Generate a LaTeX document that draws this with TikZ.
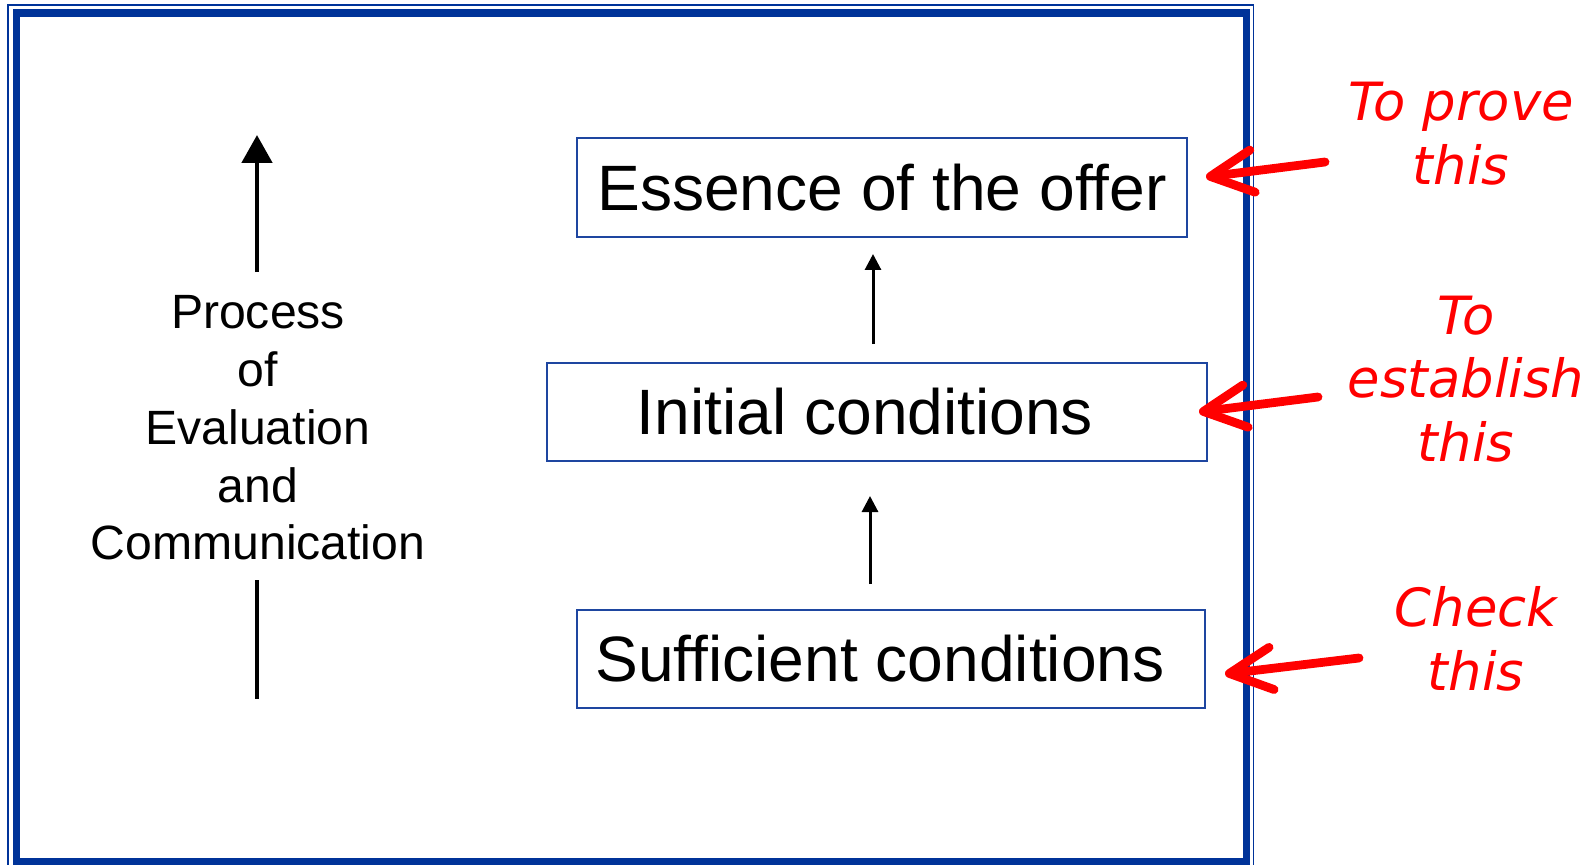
\documentclass[tikz,border=0pt]{standalone}
\usepackage{fontspec}
\setmainfont{Liberation Sans}
\newfontfamily\notefont{DejaVu Sans}
\usetikzlibrary{arrows.meta}

\definecolor{frameblue}{RGB}{0,51,153}
\definecolor{boxblue}{RGB}{30,70,160}

\tikzstyle{stage}=[draw=boxblue, line width=1.1pt, inner sep=0pt, minimum height=1.97cm, font=\fontsize{36.5}{44}\selectfont]
\tikzstyle{note}=[red, align=center, inner sep=0pt, font=\notefont\itshape\fontsize{30}{36.3}\selectfont]
\tikzstyle{pointer}=[red, line width=5pt, line cap=round, line join=round, -{Straight Barb[length=0.85cm, width=0.85cm, round]}]
\tikzstyle{step up}=[line width=1.7pt, -{Triangle[width=0.32cm, length=0.32cm]}]
\tikzstyle{main up}=[line width=2.8pt]

\begin{document}
\begin{tikzpicture}[x=0.02cm, y=-0.02cm]
				\useasboundingbox (0,0) rectangle (1595,865);
				\clip (0,0) rectangle (1595,865);

				% frame
				\draw[frameblue, line width=1.1pt] (8,5) rectangle (1253.5,880);
				\draw[frameblue, line width=4pt] (16.5,13) rectangle (1246.5,862);

				% boxes
				\node[stage, minimum width=12.2cm] (essence) at (882,187.5) {Essence of the offer};
				\node[stage, minimum width=13.2cm] (initial) at (877,412) {Initial conditions\hspace*{0.48cm}};
				\node[stage, minimum width=12.56cm] (sufficient) at (891,659) {Sufficient conditions\hspace*{0.44cm}};

				\coordinate (lowtail) at (870,584);
				\coordinate (lowtip) at (870,496);
				\coordinate (uptail) at (873,344);
				\coordinate (uptip) at (873,254);

				\draw[step up] (lowtail) -- (lowtip);
				\draw[step up] (uptail) -- (uptip);

				% left side
				\node[align=center, inner sep=0pt, font=\fontsize{27.4}{32.9}\selectfont] (process) at (258,428)
					{Process\\of\\Evaluation\\and\\Communication};

				\coordinate (mainbase) at (257,272);
				\coordinate (maintip) at (257,135);
				\coordinate (maintop) at (257,580);
				\coordinate (mainfoot) at (257,699);

				\draw[main up, -{Triangle[width=0.6cm, length=0.56cm]}] (mainbase) -- (maintip);
				\draw[main up] (maintop) -- (mainfoot);

				% notes
				\node[note] (prove) at (1461,134) {To prove\\this};
				\node[note] (establish) at (1466,379) {To\\establish\\this};
				\node[note] (check) at (1476,639) {Check\\this};

				\coordinate (provetail) at (1325,162);
				\coordinate (provetip) at (1206,177);
				\coordinate (establishtail) at (1318,397);
				\coordinate (establishtip) at (1199,412);
				\coordinate (checktail) at (1359,658);
				\coordinate (checktip) at (1225,674);

				\draw[pointer] (provetail) -- (provetip);
				\draw[pointer] (establishtail) -- (establishtip);
				\draw[pointer] (checktail) -- (checktip);
			\end{tikzpicture}
\end{document}
